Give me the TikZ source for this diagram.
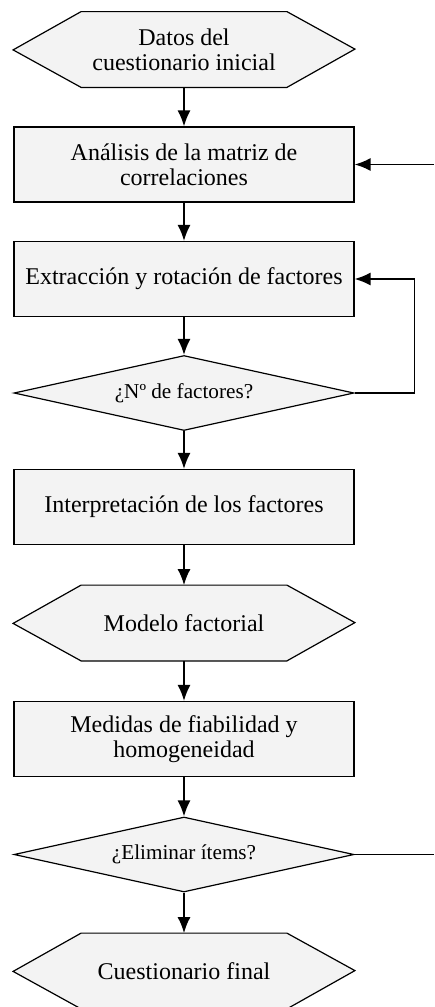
\documentclass[tikz,border=0pt]{standalone}
\usepackage{fontspec}
\setmainfont{Liberation Serif}
\usetikzlibrary{arrows.meta,shapes.geometric}
\pgfdeclarelayer{background}
\pgfsetlayers{background,main}
\definecolor{stepgray}{RGB}{243,243,243}
\tikzstyle{box}=[rectangle,draw,line width=0.6pt,fill=stepgray,minimum width=170pt,minimum height=37.5pt,inner sep=0pt,align=center,font=\fontsize{12}{12.4}\selectfont]
\tikzstyle{decision}=[diamond,draw,line width=0.6pt,fill=stepgray,aspect=4.5,minimum width=170pt,minimum height=37.5pt,inner sep=0pt,font=\fontsize{10.6}{12}\selectfont]
\tikzstyle{terminal}=[rectangle,minimum width=102.5pt,minimum height=37.5pt,inner sep=0pt,align=center,font=\fontsize{12}{12.4}\selectfont]
\tikzstyle{hexagon}=[draw,line width=0.6pt,fill=stepgray]
\tikzstyle{arrow}=[draw,line width=0.8pt,-{Latex[length=8pt,width=6.5pt]}]
\tikzstyle{line}=[draw,line width=0.8pt,-]

\begin{document}
\begin{tikzpicture}[x=0.5pt,y=-0.5pt]
    \useasboundingbox (0,0) rectangle (434,1007);

    \foreach \y/\name/\txt in {49.5/datos/{Datos del\\cuestionario inicial},
                               623/modelo/{Modelo factorial},
                               971/final/{Cuestionario final}}
        \node[terminal] (\name) at (184,\y) {\txt};

    \foreach \y/\name/\txt in {164.5/anal/{Análisis de la matriz de\\correlaciones},
                               279/extr/{Extracción y rotación de factores},
                               507/interp/{Interpretación de los factores},
                               739/medidas/{Medidas de fiabilidad y\\homogeneidad}}
        \node[box] (\name) at (184,\y) {\txt};

    \foreach \y/\name/\txt in {393/nfact/{¿Nº de factores?},
                               854.5/elim/{¿Eliminar ítems?}}
        \node[decision] (\name) at (184,\y) {\txt\hspace{8pt}};

    \begin{pgfonlayer}{background}
        \foreach \n in {datos,modelo,final}
            \path[hexagon] (\n.north west) -- (\n.north east) -- ++(68,37.5)
                -- (\n.south east) -- (\n.south west) -- ++(-68,-37.5) -- cycle;
    \end{pgfonlayer}

    \foreach \source/\dest in {datos/anal, anal/extr, extr/nfact, nfact/interp,
                               interp/modelo, modelo/medidas, medidas/elim, elim/final}
        \path[arrow] (\source) -- (\dest);

    % vuelta desde la decision
    \path[arrow] (nfact.east) -- ++(60,0) |- (extr.east);
    \coordinate (back) at (434,164.5);
    \coordinate (out) at (434,854.5);
    \path[arrow] (back) -- (anal.east);
    \path[line] (elim.east) -- (out);
\end{tikzpicture}
\end{document}
